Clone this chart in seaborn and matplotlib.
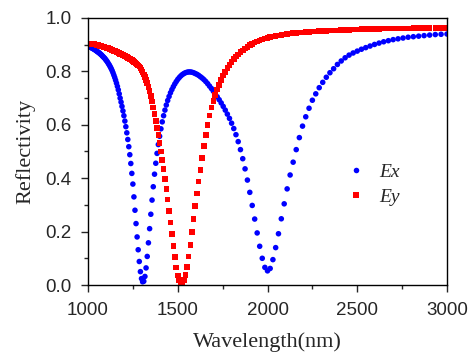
import matplotlib
matplotlib.use("Agg")
import matplotlib.pyplot as plt
import pandas as pd
import seaborn as sns
from matplotlib.ticker import MultipleLocator
from matplotlib.font_manager import FontProperties

wavelength = [
    1000.0, 1003.7, 1007.5, 1011.2, 1015.0, 1018.9, 1022.7, 1026.6, 1030.5, 1034.5,
    1038.5, 1042.5, 1046.5, 1050.6, 1054.7, 1058.8, 1063.0, 1067.2, 1071.4, 1075.7,
    1080.0, 1084.3, 1088.7, 1093.1, 1097.6, 1102.0, 1106.6, 1111.1, 1115.7, 1120.3,
    1125.0, 1129.7, 1134.5, 1139.2, 1144.1, 1148.9, 1153.8, 1158.8, 1163.8, 1168.8,
    1173.9, 1179.0, 1184.2, 1189.4, 1194.7, 1200.0, 1205.4, 1210.8, 1216.2, 1221.7,
    1227.3, 1232.9, 1238.5, 1244.2, 1250.0, 1255.8, 1261.7, 1267.6, 1273.6, 1279.6,
    1285.7, 1291.9, 1298.1, 1304.3, 1310.7, 1317.1, 1323.5, 1330.0, 1336.6, 1343.3,
    1350.0, 1356.8, 1363.6, 1370.6, 1377.6, 1384.6, 1391.8, 1399.0, 1406.3, 1413.6,
    1421.1, 1428.6, 1436.2, 1443.9, 1451.6, 1459.5, 1467.4, 1475.4, 1483.5, 1491.7,
    1500.0, 1508.4, 1516.9, 1525.4, 1534.1, 1542.9, 1551.7, 1560.7, 1569.8, 1578.9,
    1588.2, 1597.6, 1607.1, 1616.8, 1626.5, 1636.4, 1646.3, 1656.4, 1666.7, 1677.0,
    1687.5, 1698.1, 1708.9, 1719.7, 1730.8, 1741.9, 1753.2, 1764.7, 1776.3, 1788.1,
    1800.0, 1812.1, 1824.3, 1836.7, 1849.3, 1862.1, 1875.0, 1888.1, 1901.4, 1914.9,
    1928.6, 1942.4, 1956.5, 1970.8, 1985.3, 2000.0, 2014.9, 2030.1, 2045.5, 2061.1,
    2076.9, 2093.0, 2109.4, 2126.0, 2142.9, 2160.0, 2177.4, 2195.1, 2213.1, 2231.4,
    2250.0, 2268.9, 2288.1, 2307.7, 2327.6, 2347.8, 2368.4, 2389.4, 2410.7, 2432.4,
    2454.5, 2477.1, 2500.0, 2523.4, 2547.2, 2571.4, 2596.2, 2621.4, 2647.1, 2673.3,
    2700.0, 2727.3, 2755.1, 2783.5, 2812.5, 2842.1, 2872.3, 2903.2, 2934.8, 2967.0,
    3000.0,
]

ex = [
    0.895, 0.894, 0.893, 0.891, 0.890, 0.889, 0.887, 0.886, 0.884, 0.883,
    0.881, 0.879, 0.877, 0.875, 0.873, 0.871, 0.869, 0.866, 0.864, 0.861,
    0.858, 0.855, 0.852, 0.849, 0.845, 0.841, 0.837, 0.832, 0.827, 0.822,
    0.816, 0.810, 0.803, 0.795, 0.786, 0.777, 0.767, 0.756, 0.744, 0.731,
    0.716, 0.700, 0.685, 0.669, 0.652, 0.634, 0.614, 0.593, 0.570, 0.545,
    0.518, 0.488, 0.455, 0.418, 0.378, 0.330, 0.280, 0.230, 0.180, 0.132,
    0.088, 0.050, 0.024, 0.012, 0.014, 0.032, 0.064, 0.107, 0.158, 0.211,
    0.265, 0.318, 0.368, 0.415, 0.456, 0.493, 0.526, 0.557, 0.585, 0.611,
    0.634, 0.655, 0.674, 0.691, 0.706, 0.720, 0.732, 0.743, 0.753, 0.762,
    0.770, 0.777, 0.783, 0.788, 0.792, 0.795, 0.797, 0.798, 0.798, 0.797,
    0.795, 0.792, 0.789, 0.785, 0.780, 0.775, 0.769, 0.762, 0.754, 0.745,
    0.736, 0.726, 0.716, 0.705, 0.694, 0.682, 0.669, 0.655, 0.640, 0.624,
    0.606, 0.586, 0.563, 0.537, 0.507, 0.473, 0.435, 0.393, 0.347, 0.298,
    0.247, 0.195, 0.145, 0.100, 0.066, 0.053, 0.062, 0.095, 0.140, 0.192,
    0.248, 0.304, 0.360, 0.412, 0.460, 0.507, 0.552, 0.595, 0.630, 0.662,
    0.692, 0.716, 0.739, 0.759, 0.778, 0.795, 0.810, 0.826, 0.839, 0.851,
    0.861, 0.869, 0.876, 0.883, 0.889, 0.895, 0.901, 0.906, 0.911, 0.915,
    0.919, 0.922, 0.925, 0.928, 0.930, 0.932, 0.934, 0.936, 0.938, 0.939,
    0.940,
]

ey = [
    0.905, 0.905, 0.905, 0.904, 0.904, 0.904, 0.903, 0.903, 0.902, 0.902,
    0.901, 0.901, 0.900, 0.899, 0.899, 0.898, 0.897, 0.896, 0.896, 0.895,
    0.894, 0.893, 0.892, 0.891, 0.890, 0.889, 0.888, 0.887, 0.886, 0.884,
    0.883, 0.882, 0.880, 0.879, 0.877, 0.876, 0.875, 0.873, 0.872, 0.870,
    0.868, 0.866, 0.865, 0.863, 0.861, 0.859, 0.857, 0.855, 0.853, 0.851,
    0.849, 0.847, 0.845, 0.842, 0.839, 0.836, 0.833, 0.830, 0.826, 0.822,
    0.818, 0.813, 0.806, 0.798, 0.789, 0.779, 0.768, 0.756, 0.742, 0.726,
    0.708, 0.688, 0.665, 0.640, 0.614, 0.588, 0.562, 0.532, 0.500, 0.468,
    0.434, 0.398, 0.360, 0.320, 0.278, 0.234, 0.190, 0.146, 0.104, 0.066,
    0.036, 0.017, 0.010, 0.010, 0.018, 0.038, 0.068, 0.106, 0.150, 0.198,
    0.247, 0.296, 0.343, 0.388, 0.430, 0.475, 0.520, 0.562, 0.600, 0.634,
    0.664, 0.690, 0.712, 0.732, 0.750, 0.768, 0.784, 0.798, 0.812, 0.825,
    0.836, 0.846, 0.855, 0.864, 0.872, 0.879, 0.886, 0.892, 0.898, 0.903,
    0.908, 0.912, 0.916, 0.920, 0.923, 0.926, 0.929, 0.931, 0.933, 0.935,
    0.937, 0.939, 0.940, 0.942, 0.943, 0.944, 0.945, 0.946, 0.947, 0.948,
    0.949, 0.950, 0.951, 0.952, 0.952, 0.953, 0.954, 0.954, 0.955, 0.956,
    0.956, 0.957, 0.957, 0.958, 0.958, 0.959, 0.959, 0.959, 0.960, 0.960,
    0.960, 0.961, 0.961, 0.961, 0.962, 0.962, 0.962, 0.962, 0.963, 0.963,
    0.963,
]

series = ["Ex", "Ey"]
palette = {"Ex": "#0000ff", "Ey": "#ff0000"}
markers = {"Ex": "o", "Ey": "s"}
x_ticks = [1000, 1500, 2000, 2500, 3000]
y_ticks = [0.0, 0.2, 0.4, 0.6, 0.8, 1.0]

sns.set_style("ticks")
plt.rcParams["font.family"] = ["Liberation Sans", "DejaVu Sans"]

df = pd.DataFrame({
    "Wavelength": wavelength + wavelength,
    "Reflectivity": ex + ey,
    "pol": [series[0]] * len(ex) + [series[1]] * len(ey),
})

fig = plt.figure(figsize=(4.73, 3.53), dpi=100)
ax = fig.add_axes([88 / 473, 1 - 285 / 353, (447 - 88) / 473, (285 - 18) / 353])

sns.scatterplot(data=df, x="Wavelength", y="Reflectivity", hue="pol", style="pol",
                hue_order=series, style_order=series, palette=palette, markers=markers,
                s=16, linewidth=0, ax=ax, legend=True)

ax.set_xlim(1000, 3000)
ax.set_ylim(0.0, 1.0)
ax.set_xticks(x_ticks)
ax.set_xticklabels([str(v) for v in x_ticks])
ax.set_yticks(y_ticks)
ax.set_yticklabels([f"{v:.1f}" for v in y_ticks])
ax.xaxis.set_minor_locator(MultipleLocator(250))
ax.yaxis.set_minor_locator(MultipleLocator(0.1))
ax.tick_params(which="major", direction="out", length=5, width=1, labelsize=13.5,
               top=False, right=False, pad=7)
ax.tick_params(which="minor", direction="out", length=3, width=1, top=False, right=False)
for sp in ax.spines.values():
    sp.set_visible(True)
    sp.set_linewidth(1.0)
    sp.set_color("black")

serif = ["Liberation Serif", "DejaVu Serif"]
ax.set_xlabel("Wavelength(nm)", fontsize=16, family=serif, labelpad=10)
ax.set_ylabel("Reflectivity", fontsize=16, family=serif, labelpad=7)

handles, labels = ax.get_legend_handles_labels()
ax.legend(handles, labels, frameon=False, loc="upper left",
          bbox_to_anchor=(0.67, 0.485), handletextpad=0.2, labelspacing=0.4,
          markerscale=1.0, borderaxespad=0,
          prop=FontProperties(family="Liberation Serif", style="italic", size=14))

fig.savefig("out.png", dpi=100)
